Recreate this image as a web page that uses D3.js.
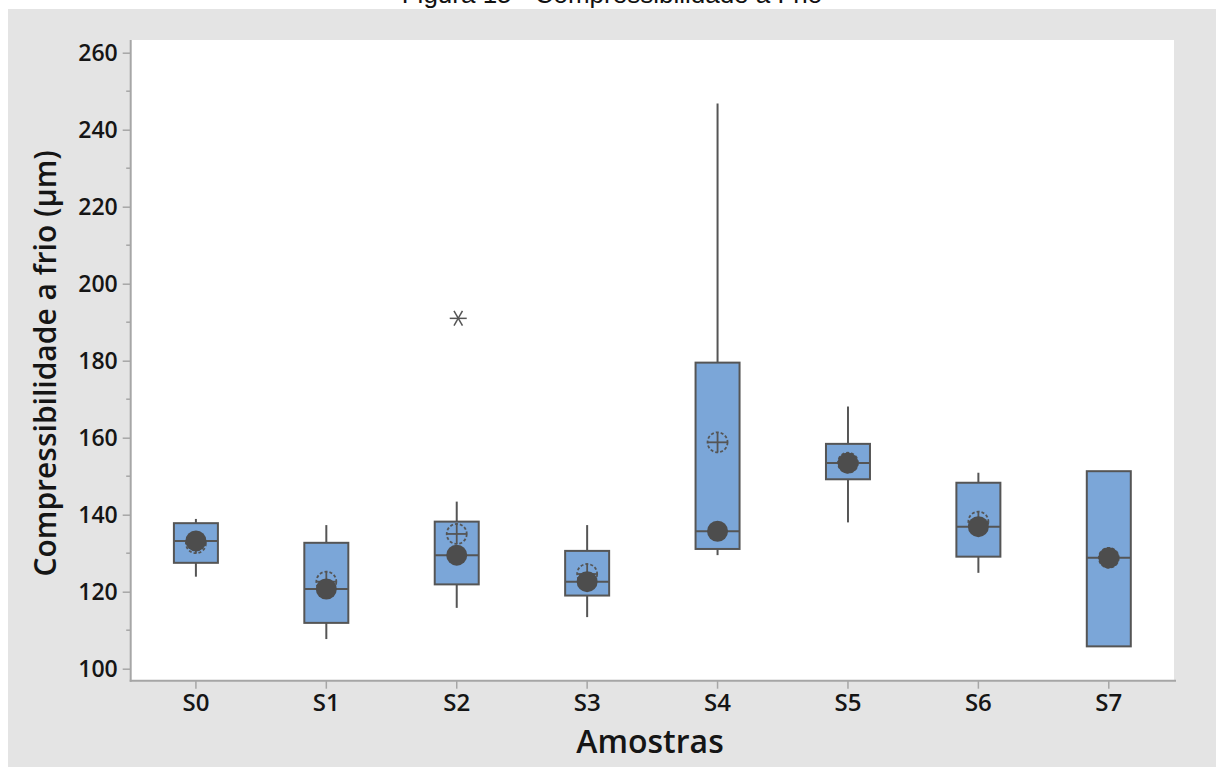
<!DOCTYPE html>
<html>
<head>
<meta charset="utf-8">
<script src="https://cdn.jsdelivr.net/npm/d3@7"></script>
<style>
  html, body { margin: 0; padding: 0; background: #ffffff; }
  svg { display: block; }
</style>
</head>
<body>
<svg id="chart" width="1216" height="767"></svg>
<script>
// Cold compressibility per sample (µm)
const categories = ["S0", "S1", "S2", "S3", "S4", "S5", "S6", "S7"];
const whiskerLow  = [123.9, 107.7, 115.8, 113.4, 129.5, 138.0, 124.9, null];
const q1          = [127.5, 111.9, 121.9, 119.0, 131.1, 149.2, 129.1, 105.8];
const medians     = [133.2, 120.7, 129.5, 122.6, 135.7, 153.4, 136.9, 128.8];
const q3          = [137.8, 132.7, 138.2, 130.6, 179.5, 158.4, 148.3, 151.3];
const whiskerHigh = [138.9, 137.3, 143.4, 137.3, 246.8, 168.1, 150.9, null];
const means       = [132.6, 122.6, 135.0, 124.6, 158.8, 153.5, 138.2, 128.8];
const outliers    = [{ cat: "S2", value: 191.0 }];
const yTicks      = [100, 120, 140, 160, 180, 200, 220, 240, 260];
const yMinorTicks = [110, 130, 150, 170, 190, 210, 230, 250];

const svg = d3.select("#chart");
const W = 1216, H = 767;
const plot = { left: 130.7, right: 1174, top: 40, bottom: 680.7 };

const boxes = categories.map((c, i) => ({
  cat: c, lo: whiskerLow[i], q1: q1[i], med: medians[i], q3: q3[i], hi: whiskerHigh[i], mean: means[i]
}));

// background
svg.append("rect").attr("x", 0).attr("y", 0).attr("width", W).attr("height", H).attr("fill", "#ffffff");
svg.append("rect").attr("x", 8).attr("y", 9).attr("width", W - 8).attr("height", H - 9).attr("fill", "#e4e4e4");
svg.append("rect").attr("x", plot.left).attr("y", plot.top)
  .attr("width", plot.right - plot.left).attr("height", plot.bottom - plot.top).attr("fill", "#ffffff");

// caption (page heading above the figure frame)
svg.append("text").attr("x", 612).attr("y", 3).attr("text-anchor", "middle")
  .attr("font-family", "Liberation Sans, Arial, sans-serif").attr("font-size", 26).attr("fill", "#111")
  .text("Figura 15 - Compressibilidade a Frio");

const x = d3.scaleBand().domain(categories).range([plot.left, plot.right]).paddingInner(0).paddingOuter(0);
const y = d3.scaleLinear().domain([100, 260]).range([668.7, 52.7]);

const labelFont = "'Open Sans', 'Noto Sans', sans-serif";
const axisColor = "#a6a6a6";
const textColor = "#151515";

// y axis
const yAxis = d3.axisLeft(y).tickValues(yTicks).tickSize(8).tickPadding(5).tickSizeOuter(0);
const gy = svg.append("g").attr("transform", `translate(${plot.left},0)`).call(yAxis);
gy.select(".domain").remove();
gy.selectAll(".tick line").attr("stroke", axisColor).attr("stroke-width", 1.5);
gy.selectAll(".tick text").attr("font-family", labelFont).attr("font-weight", 600)
  .attr("font-size", 23).attr("fill", textColor).attr("dy", "0.34em");
svg.append("g").selectAll("line").data(yMinorTicks).join("line")
  .attr("x1", plot.left - 4.5).attr("x2", plot.left).attr("y1", d => y(d)).attr("y2", d => y(d))
  .attr("stroke", axisColor).attr("stroke-width", 1.5);

// x axis
const xAxis = d3.axisBottom(x).tickSize(8).tickPadding(5).tickSizeOuter(0);
const gx = svg.append("g").attr("transform", `translate(0,${plot.bottom})`).call(xAxis);
gx.select(".domain").remove();
gx.selectAll(".tick line").attr("stroke", axisColor).attr("stroke-width", 1.5);
gx.selectAll(".tick text").attr("font-family", labelFont).attr("font-weight", 600)
  .attr("font-size", 24).attr("fill", textColor);

// axis lines
svg.append("line").attr("x1", plot.left).attr("x2", plot.left).attr("y1", plot.top).attr("y2", plot.bottom + 1)
  .attr("stroke", axisColor).attr("stroke-width", 2);
svg.append("line").attr("x1", plot.left - 1).attr("x2", plot.right + 2).attr("y1", plot.bottom).attr("y2", plot.bottom)
  .attr("stroke", axisColor).attr("stroke-width", 2);

// axis titles
svg.append("text").attr("x", 650).attr("y", 753).attr("text-anchor", "middle")
  .attr("font-family", labelFont).attr("font-weight", 600).attr("font-size", 32).attr("fill", textColor)
  .text("Amostras");
svg.append("text").attr("transform", `translate(56,${(plot.top + plot.bottom) / 2 + 3}) rotate(-90)`)
  .attr("text-anchor", "middle")
  .attr("font-family", labelFont).attr("font-weight", 600).attr("font-size", 30).attr("fill", textColor)
  .text("Compressibilidade a frio (µm)");

// boxplots
const boxW = 44;
const ink = "#555555";
const g = svg.append("g");
const cx = d => x(d.cat) + x.bandwidth() / 2;

// whiskers
boxes.filter(d => d.hi != null).forEach(d => {
  g.append("line").attr("x1", cx(d)).attr("x2", cx(d)).attr("y1", y(d.q3)).attr("y2", y(d.hi))
    .attr("stroke", ink).attr("stroke-width", 2);
  g.append("line").attr("x1", cx(d)).attr("x2", cx(d)).attr("y1", y(d.q1)).attr("y2", y(d.lo))
    .attr("stroke", ink).attr("stroke-width", 2);
});

// boxes
g.selectAll("rect.box").data(boxes).join("rect").attr("class", "box")
  .attr("x", d => cx(d) - boxW / 2).attr("width", boxW)
  .attr("y", d => y(d.q3)).attr("height", d => y(d.q1) - y(d.q3))
  .attr("fill", "#7ba6d8").attr("stroke", ink).attr("stroke-width", 2);

// median lines
g.selectAll("line.med").data(boxes).join("line").attr("class", "med")
  .attr("x1", d => cx(d) - boxW / 2).attr("x2", d => cx(d) + boxW / 2)
  .attr("y1", d => y(d.med)).attr("y2", d => y(d.med))
  .attr("stroke", ink).attr("stroke-width", 2);

// mean symbols (circle with cross)
const meanG = g.selectAll("g.mean").data(boxes).join("g").attr("class", "mean")
  .attr("transform", d => `translate(${cx(d)},${y(d.mean)})`);
meanG.append("circle").attr("r", 10).attr("fill", "none").attr("stroke", ink)
  .attr("stroke-width", 1.8).attr("stroke-dasharray", "3,2");
meanG.append("line").attr("x1", -10).attr("x2", 10).attr("stroke", ink).attr("stroke-width", 1.8);
meanG.append("line").attr("y1", -10).attr("y2", 10).attr("stroke", ink).attr("stroke-width", 1.8);

// median symbols
g.selectAll("circle.meddot").data(boxes).join("circle").attr("class", "meddot")
  .attr("cx", d => cx(d)).attr("cy", d => y(d.med)).attr("r", 10.5).attr("fill", "#4d4d4d");

// outliers (asterisk)
const outG = g.selectAll("g.out").data(outliers).join("g").attr("class", "out")
  .attr("transform", d => `translate(${x(d.cat) + x.bandwidth() / 2 + 1.5},${y(d.value)})`);
[0, 60, 120].forEach(a => {
  const r = 8.5, t = a * Math.PI / 180;
  outG.append("line").attr("x1", -r * Math.cos(t)).attr("y1", -r * Math.sin(t))
    .attr("x2", r * Math.cos(t)).attr("y2", r * Math.sin(t))
    .attr("stroke", ink).attr("stroke-width", 1.5);
});
</script>
</body>
</html>
